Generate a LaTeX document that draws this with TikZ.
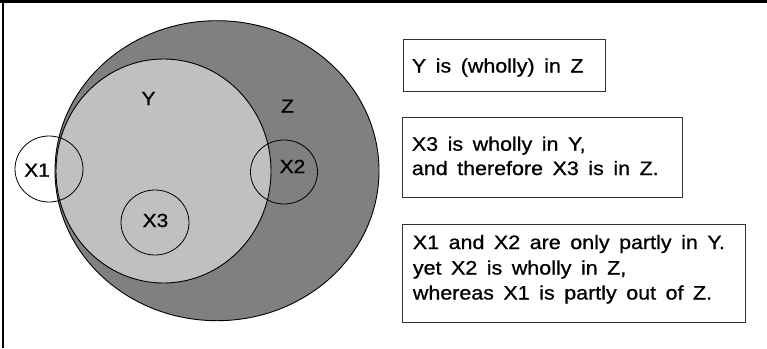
\documentclass[tikz,border=0pt]{standalone}
\usepackage{fontspec}
\newfontfamily\dfont[WordSpace=1.6, FakeStretch=1.1, FakeBold=0.8]{Liberation Sans}
\definecolor{zgray}{HTML}{808080}
\definecolor{ygray}{HTML}{C0C0C0}
\definecolor{boxline}{HTML}{303030}
\tikzset{
  setz/.style={draw=black, line width=0.9pt, fill=zgray},
  sety/.style={draw=black, line width=0.9pt, fill=ygray},
  setx/.style={draw=black, line width=0.8pt},
  lbl/.style={font=\dfont\fontsize{19}{22}\selectfont, inner sep=0pt, anchor=base},
  txt/.style={font=\dfont\fontsize{19.5}{22}\selectfont, inner sep=0pt, anchor=base west},
  notebox/.style={draw=boxline, line width=1pt, inner sep=0pt, anchor=north west},
  frame/.style={line width=2.6pt, black}
}
\begin{document}
\begin{tikzpicture}[x=1pt,y=-1pt]
\useasboundingbox (0,0) rectangle (767,348);
\fill[white] (0,0) rectangle (767,348);
% frame (top and left edges)
\coordinate (ftl) at (0,1.3);
\coordinate (ftr) at (767,1.3);
\coordinate (fl1) at (3,0);
\coordinate (fl2) at (3,348);
\draw[frame] (ftl) -- (ftr);
\draw[frame] (fl1) -- (fl2);
% sets
\path[setz] (217,170.7) ellipse [x radius=162, y radius=150];
\path[sety] (163.5,171) ellipse [x radius=107.5, y radius=112];
\path[setx] (49,169) ellipse [x radius=34, y radius=33];
\path[setx] (284,172) ellipse [x radius=33.5, y radius=32];
\path[setx] (155,222.5) ellipse [x radius=34, y radius=32.5];
% labels
\node[lbl] (ly) at (148.5,105) {Y};
\node[lbl] (lz) at (287.5,112.7) {Z};
\node[lbl] (lx1) at (37,176.7) {X1};
\node[lbl] (lx2) at (292.5,173) {X2};
\node[lbl] (lx3) at (155.5,227) {X3};
% note boxes
\node[notebox, minimum width=202pt, minimum height=51.7pt] (b1) at (403,39.3) {};
\node[notebox, minimum width=280.3pt, minimum height=80pt] (b2) at (401.7,116.7) {};
\node[notebox, minimum width=343.3pt, minimum height=98.3pt] (b3) at (401.7,224) {};
\node[txt] (t1) at (411.7,72.5) {Y is (wholly) in Z};
\node[txt] (t2a) at (411.7,150.7) {X3 is wholly in Y,};
\node[txt] (t2b) at (411.7,175) {and therefore X3 is in Z.};
\node[txt] (t3a) at (412.7,249) {X1 and X2 are only partly in Y.};
\node[txt] (t3b) at (412.7,274.5) {yet X2 is wholly in Z,};
\node[txt] (t3c) at (412.7,299.5) {whereas X1 is partly out of Z.};
\end{tikzpicture}
\end{document}
